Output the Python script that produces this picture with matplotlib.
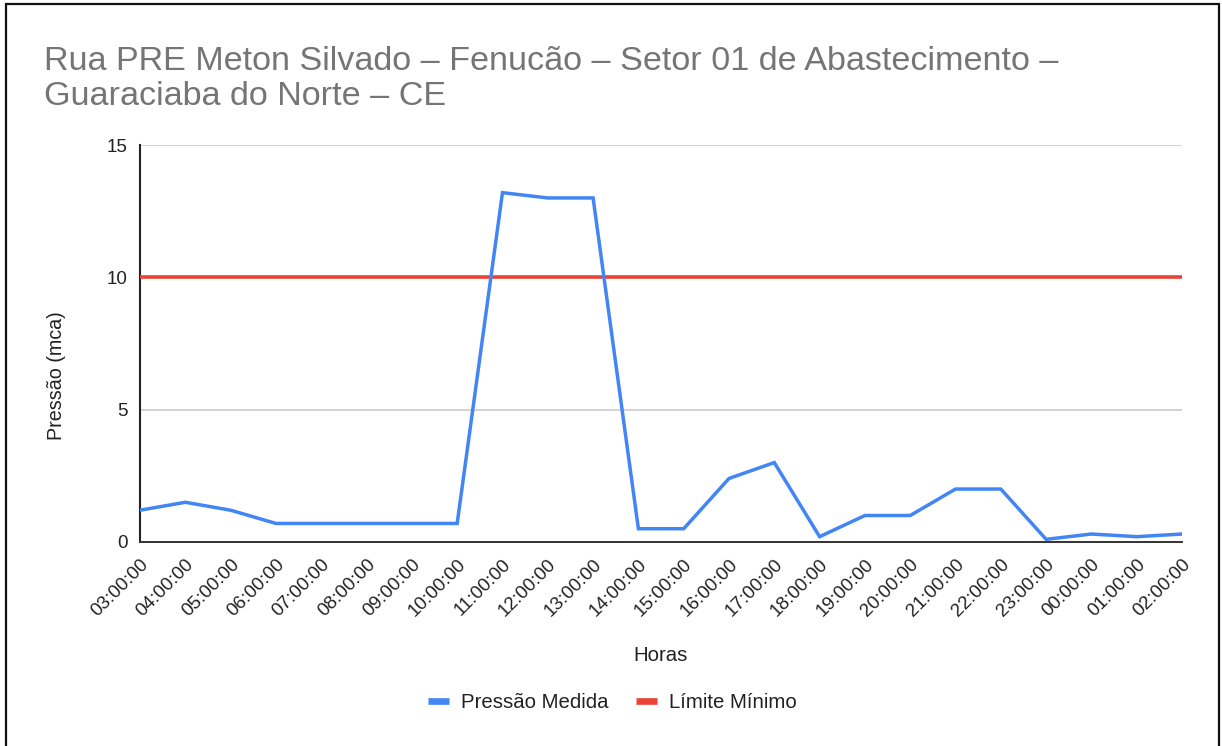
import matplotlib; matplotlib.use('Agg')
import matplotlib.pyplot as plt
from matplotlib.lines import Line2D

plt.rcParams.update({
    'font.family': ['Liberation Sans', 'DejaVu Sans'],
    'font.size': 13.5,
})

# Data
horas = ['03:00:00', '04:00:00', '05:00:00', '06:00:00', '07:00:00', '08:00:00',
         '09:00:00', '10:00:00', '11:00:00', '12:00:00', '13:00:00', '14:00:00',
         '15:00:00', '16:00:00', '17:00:00', '18:00:00', '19:00:00', '20:00:00',
         '21:00:00', '22:00:00', '23:00:00', '00:00:00', '01:00:00', '02:00:00']
pressao_medida = [1.2, 1.5, 1.2, 0.7, 0.7, 0.7, 0.7, 0.7, 13.2, 13.0, 13.0, 0.5,
                  0.5, 2.4, 3.0, 0.2, 1.0, 1.0, 2.0, 2.0, 0.1, 0.3, 0.2, 0.3]
limite_minimo = [10] * len(horas)

c_blue = '#4285F4'
c_red = '#EA4335'

fig = plt.figure(figsize=(12.22, 7.46), dpi=100)
ax = fig.add_axes([0.1146, 0.2735, 0.8527, 0.5321])

x = range(len(horas))
ax.plot(x, limite_minimo, color=c_red, lw=2.6, solid_capstyle='butt', zorder=3)
ax.plot(x, pressao_medida, color=c_blue, lw=2.5, solid_joinstyle='miter', zorder=4)

ax.set_xlim(0, len(horas) - 1)
ax.set_ylim(0, 15)
ax.set_yticks([0, 5, 10, 15])
ax.set_xticks(list(x))
ax.set_xticklabels(horas, rotation=45, ha='right', rotation_mode='anchor')
ax.tick_params(axis='both', length=0, labelsize=13.5, colors='#222222')
ax.tick_params(axis='x', pad=10)
ax.tick_params(axis='y', pad=9)

ax.grid(axis='y', color='#cccccc', lw=1.2)
ax.set_axisbelow(True)
for s in ['top', 'right']:
    ax.spines[s].set_visible(False)
ax.spines['left'].set_color('#222222')
ax.spines['bottom'].set_color('#333333')
ax.spines['left'].set_linewidth(1.5)
ax.spines['bottom'].set_linewidth(1.4)

ax.set_xlabel('Horas', fontsize=14.7, color='#222222')
ax.xaxis.set_label_coords(0.5, -0.262)
ax.set_ylabel('Pressão (mca)', fontsize=14.2, color='#222222')
ax.yaxis.set_label_coords(-0.071, 0.418)

title_lines = ['Rua PRE Meton Silvado – Fenucão – Setor 01 de Abastecimento –',
               'Guaraciaba do Norte – CE']
fig.text(0.036, 1 - 70 / 746, title_lines[0], fontsize=24.6, color='#757575',
         ha='left', va='baseline')
fig.text(0.036, 1 - 105 / 746, title_lines[1], fontsize=24.6, color='#757575',
         ha='left', va='baseline')

handles = [Line2D([], [], color=c_blue, lw=4.8, solid_capstyle='butt'),
           Line2D([], [], color=c_red, lw=4.8, solid_capstyle='butt')]
fig.legend(handles, ['Pressão Medida', 'Límite Mínimo'], loc='center',
           bbox_to_anchor=(0.5012, 0.058), ncol=2, frameon=False, fontsize=14.7,
           handlelength=1.0, handletextpad=0.6, columnspacing=1.35, labelcolor='#222222')

# outer frame (slightly inset, bottom edge runs off the image)
fig.patches.append(plt.Rectangle((6 / 1222, -0.01), 1213 / 1222, 1.01 - 3.5 / 746,
                                 transform=fig.transFigure, fill=False,
                                 edgecolor='#111111', lw=1.6))

fig.savefig('out.png', dpi=100)
